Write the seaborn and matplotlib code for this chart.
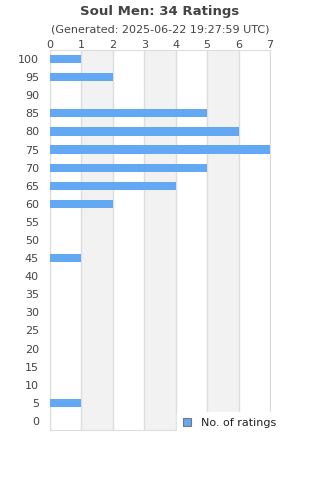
import matplotlib
matplotlib.use("Agg")
import matplotlib.pyplot as plt
import seaborn as sns
import pandas as pd

sns.set_style("white")
plt.rcParams["font.family"] = ["DejaVu Sans"]

scores = ["100", "95", "90", "85", "80", "75", "70", "65", "60", "55", "50",
          "45", "40", "35", "30", "25", "20", "15", "10", "5", "0"]
counts = [1, 2, 0, 5, 6, 7, 5, 4, 2, 0, 0,
          1, 0, 0, 0, 0, 0, 0, 0, 1, 0]
title = "Soul Men: 34 Ratings"
subtitle = "(Generated: 2025-06-22 19:27:59 UTC)"

df = pd.DataFrame({"score": scores, "count": counts})

fig = plt.figure(figsize=(3.2, 4.8), dpi=100)
ax = fig.add_axes([50 / 320, 50 / 480, 220 / 320, 380 / 480])

# alternating shaded columns
for i in range(1, 7, 2):
    ax.axvspan(i, i + 1, color="#f2f2f2", zorder=0, lw=0)

sns.barplot(data=df, x="count", y="score", order=scores, orient="h",
            color="#62a8f2", saturation=1, width=0.45, ax=ax, zorder=3,
            linewidth=0, edgecolor="none", label="No. of ratings")

ax.set_xlim(0, 7)
ax.set_xticks(range(0, 8))
ax.xaxis.tick_top()
ax.grid(axis="x", color="#dddddd", lw=1, zorder=1)
ax.set_axisbelow(True)
ax.set_xlabel("")
ax.set_ylabel("")
for s in ax.spines.values():
    s.set_color("#dddddd")
ax.tick_params(axis="both", length=0, labelsize=8, colors="#444444", pad=0)
ax.tick_params(axis="y", pad=8)

fig.text(0.5, 1 - 11 / 480, title, ha="center", va="center",
         fontsize=9.5, fontweight="bold", color="#444444")
fig.text(0.5, 1 - 30 / 480, subtitle, ha="center", va="center",
         fontsize=8, color="#444444")

leg = ax.legend(loc="center left", bbox_to_anchor=(177 / 320, 1 - 423 / 480),
                bbox_transform=fig.transFigure, frameon=True, fontsize=8,
                handlelength=0.8, handleheight=0.8, borderaxespad=0,
                borderpad=0.5, handletextpad=0.9)
leg.get_frame().set_facecolor("white")
leg.get_frame().set_edgecolor("white")
leg.get_frame().set_alpha(1)
leg.set_zorder(10)
for h in leg.legend_handles:
    h.set_edgecolor("#777777")
    h.set_linewidth(0.8)
for t in leg.get_texts():
    t.set_color("#222222")

fig.savefig("out.png", dpi=100)
